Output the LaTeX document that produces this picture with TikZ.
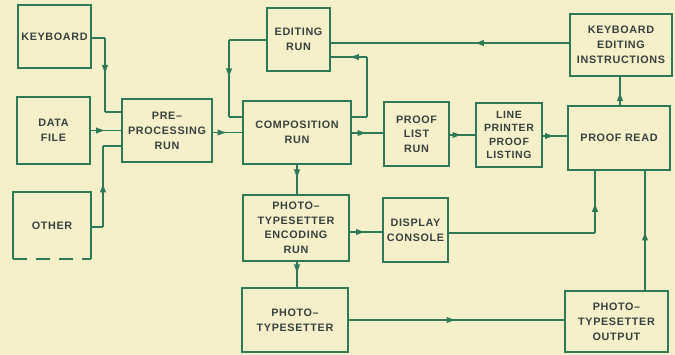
\documentclass[tikz,border=0pt]{standalone}
\usepackage{fontspec}
\setmainfont{Liberation Sans}[LetterSpace=6]
\usetikzlibrary{arrows.meta,decorations.markings}
\definecolor{bgc}{RGB}{246,240,202}
\definecolor{linec}{RGB}{46,122,88}
\definecolor{txtc}{RGB}{55,66,62}
\tikzset{
  box/.style={draw=linec, line width=1.6pt, fill=none, inner sep=0pt,
    align=center, text=txtc, font=\bfseries\fontsize{10.8}{15}\selectfont},
  conn/.style={draw=linec, line width=1.6pt},
  midarrow/.style={conn, postaction={decorate}, decoration={markings,
    mark=at position #1 with {\arrow[linec]{Latex[length=10pt,width=6.5pt]}}}},
  midarrow/.default=0.5
}
\begin{document}
\begin{tikzpicture}[x=1pt,y=-1pt]
\fill[bgc] (0,0) rectangle (675,355);
\useasboundingbox (0,0) rectangle (675,355);
% boxes
\node[box, minimum width=73pt, minimum height=63pt] (kb) at (54.5,36.5) {KEYBOARD};
\node[box, minimum width=73pt, minimum height=67pt] (df) at (53.5,130.5) {DATA\\FILE};
\node[box, draw=none, minimum width=76pt, minimum height=65pt] (other) at (52,225.5) {OTHER};
\draw[conn] (other.south west) -- (other.north west) -- (other.north east) -- (other.south east);
\draw[conn, dash pattern=on 14pt off 9pt] (other.south west) -- (other.south east);
\node[box, minimum width=90pt, minimum height=63pt] (pre) at (167,130.5) {PRE--\\PROCESSING\\RUN};
\node[box, minimum width=63pt, minimum height=63pt] (edit) at (298.5,39.5) {EDITING\\RUN};
\node[box, minimum width=108pt, minimum height=63pt] (comp) at (297,132.5) {COMPOSITION\\RUN};
\node[box, minimum width=65pt, minimum height=64pt, font=\bfseries\fontsize{10.8}{14.5}\selectfont] (plr) at (416.5,134) {PROOF\\LIST\\RUN};
\node[box, minimum width=66pt, minimum height=64pt, font=\bfseries\fontsize{10.5}{13.5}\selectfont] (lpp) at (509,135) {LINE\\PRINTER\\PROOF\\LISTING};
\node[box, minimum width=102pt, minimum height=64pt] (pr) at (619,138) {PROOF READ};
\node[box, minimum width=102pt, minimum height=62pt] (kei) at (621,45) {KEYBOARD\\EDITING\\INSTRUCTIONS};
\node[box, minimum width=106pt, minimum height=66pt, font=\bfseries\fontsize{10.8}{14.5}\selectfont] (enc) at (296,228) {PHOTO--\\TYPESETTER\\ENCODING\\RUN};
\node[box, minimum width=65pt, minimum height=64pt] (disp) at (415.5,230) {DISPLAY\\CONSOLE};
\node[box, minimum width=106pt, minimum height=64pt] (pts) at (295,320) {PHOTO--\\TYPESETTER};
\node[box, minimum width=103pt, minimum height=61pt] (out) at (616.5,321.5) {PHOTO--\\TYPESETTER\\OUTPUT};
% corner coordinates
\coordinate (k1) at (105,38);
\coordinate (k2) at (105,112);
\coordinate (o1) at (103,227);
\coordinate (o2) at (103,146);
\coordinate (e1) at (229,40);
\coordinate (e2) at (229,117);
\coordinate (c1) at (367,117);
\coordinate (c2) at (367,57);
\coordinate (d1) at (595,233);
% connectors
\draw[conn] (kb.east |- k1) -- (k1);
\draw[midarrow] (k1) -- (k2);
\draw[conn] (k2) -- (k2 -| pre.west);
\draw[midarrow] (df.east) -- (pre.west);
\draw[conn] (other.east |- o1) -- (o1);
\draw[midarrow=0.55] (o1) -- (o2);
\draw[conn] (o2) -- (o2 -| pre.west);
\draw[midarrow] (pre.east |- comp.west) -- (comp.west);
\draw[conn] (edit.west |- e1) -- (e1);
\draw[midarrow] (e1) -- (e2);
\draw[conn] (e2) -- (e2 -| comp.west);
\draw[conn] (comp.east |- c1) -- (c1);
\draw[conn] (c1) -- (c2);
\draw[midarrow] (c2) -- (c2 -| edit.east);
\draw[midarrow=0.4] (kei.west |- 0,43) -- (edit.east |- 0,43);
\draw[midarrow] (comp.east |- 0,133) -- (plr.west |- 0,133);
\draw[midarrow] (plr.east |- 0,135) -- (lpp.west |- 0,135);
\draw[midarrow] (lpp.east |- 0,136) -- (pr.west |- 0,136);
\draw[midarrow] (pr.north -| 620,0) -- (kei.south -| 620,0);
\draw[midarrow] (comp.south -| 297,0) -- (enc.north -| 297,0);
\draw[midarrow] (enc.east |- 0,232) -- (disp.west |- 0,232);
\draw[conn] (disp.east |- d1) -- (d1);
\draw[midarrow] (d1) -- (d1 |- pr.south);
\draw[midarrow] (enc.south -| 297,0) -- (pts.north -| 297,0);
\draw[midarrow] (pts.east |- 0,320) -- (out.west |- 0,320);
\draw[midarrow] (out.north -| 645,0) -- (pr.south -| 645,0);
\end{tikzpicture}
\end{document}
